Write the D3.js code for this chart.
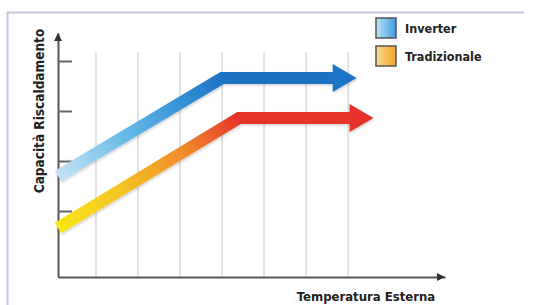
<!DOCTYPE html>
<html>
<head>
<meta charset="utf-8">
<script src="https://cdn.jsdelivr.net/npm/d3@7"></script>
<style>
  body { margin: 0; background: #fff; }
  text { font-family: "DejaVu Sans Condensed", "DejaVu Sans", sans-serif; font-weight: bold; fill: #222; }
</style>
</head>
<body>
<svg id="chart"></svg>
<script>
// data (x = outside temperature, y = heating capacity, arbitrary units)
const series = ["Inverter", "Tradizionale"];
const inverterX = [-19.5, 0, 16];
const inverterY = [1.7, 3.66, 3.66];
const tradizionaleX = [-19.5, 2, 18];
const tradizionaleY = [0.66, 2.86, 2.86];
const gridTemps = [-15, -10, -5, 0, 5, 10, 15];
const capTicks = [1, 2, 3, 4];

const width = 533, height = 305;

const svg = d3.select("#chart")
    .attr("width", width)
    .attr("height", height);

x = d3.scaleLinear()
    .domain([-19.5, 26.5])
    .range([58, 445]);

y = d3.scaleLinear()
    .domain([-0.32, 4.56])
    .range([277, 33]);

// frame (top + left only)
svg.append("path")
    .attr("d", "M7.5,305 V12.5 H524")
    .attr("fill", "none")
    .attr("stroke", "#cdc3df")
    .attr("stroke-width", 2);

// vertical grid lines
svg.append("g").selectAll("line")
    .data(gridTemps)
    .join("line")
      .attr("x1", d => x(d)).attr("x2", d => x(d))
      .attr("y1", y(-0.32)).attr("y2", y(4.18))
      .attr("stroke", "#e2e2e2")
      .attr("stroke-width", 2);

// gradients
const defs = svg.append("defs");

let addGrad = function(id, xs, ys, stops) {
    const g = defs.append("linearGradient")
        .attr("id", id)
        .attr("gradientUnits", "userSpaceOnUse")
        .attr("x1", x(xs[0])).attr("y1", y(ys[0]))
        .attr("x2", x(xs[1])).attr("y2", y(ys[1]));
    g.selectAll("stop")
        .data(stops)
        .join("stop")
          .attr("offset", d => d[0])
          .attr("stop-color", d => d[1]);
};

addGrad("gInv", inverterX, inverterY,
    [[0, "#c4e3f4"], [0.4, "#69bbe8"], [0.75, "#3592d6"], [1, "#1e72c3"]]);
addGrad("gTrad", tradizionaleX, tradizionaleY,
    [[0, "#f8e516"], [0.35, "#f6c426"], [0.7, "#f08a2a"], [1, "#e5342b"]]);

// legend gradients (horizontal)
let addLegendGrad = function(id, c0, c1) {
    const g = defs.append("linearGradient").attr("id", id)
        .attr("x1", 0).attr("y1", 0).attr("x2", 1).attr("y2", 0);
    g.append("stop").attr("offset", 0).attr("stop-color", c0);
    g.append("stop").attr("offset", 1).attr("stop-color", c1);
};
addLegendGrad("lInv", "#bfe2f5", "#3d9ee0");
addLegendGrad("lTrad", "#f8df90", "#f2a42e");

defs.append("filter").attr("id", "shadow")
    .attr("x", "-10%").attr("y", "-20%").attr("width", "130%").attr("height", "160%")
  .append("feDropShadow")
    .attr("dx", 1).attr("dy", 1.5).attr("stdDeviation", 1.2)
    .attr("flood-color", "#000").attr("flood-opacity", 0.18);

// y axis with ticks to the right
const yAxis = d3.axisRight(y).tickValues(capTicks).tickSize(14).tickSizeOuter(0).tickFormat("");
const yg = svg.append("g").attr("transform", `translate(${x(-19.5)},0)`).call(yAxis);
yg.select(".domain").attr("stroke", "#555").attr("stroke-width", 2);
yg.selectAll(".tick line").attr("stroke", "#666").attr("stroke-width", 2);

// x axis line
const xAxis = d3.axisBottom(x).tickValues([]).tickSizeOuter(0);
const xg = svg.append("g").attr("transform", `translate(0,${y(-0.32)})`).call(xAxis);
xg.select(".domain").attr("stroke", "#555").attr("stroke-width", 2);

// axis arrowheads
svg.append("path")
    .attr("d", `M${x(-19.5) - 4},${y(4.56) + 8} L${x(-19.5)},${y(4.56)} L${x(-19.5) + 4},${y(4.56) + 8} Z`)
    .attr("fill", "#333");
svg.append("path")
    .attr("d", `M${x(26.5) - 8},${y(-0.32) - 4} L${x(26.5)},${y(-0.32)} L${x(26.5) - 8},${y(-0.32) + 4} Z`)
    .attr("fill", "#333");

// capacity bands with arrows
const headLen = 23, headHalf = 14;

let drawBand = function(xs, ys, grad, headColor) {
    const pts = xs.map((d, i) => [x(d), y(ys[i])]);
    const tip = pts[pts.length - 1];
    const base = [tip[0] - headLen, tip[1]];
    const g = svg.append("g").attr("filter", "url(#shadow)");
    g.append("path")
        .attr("d", d3.line()([pts[0], pts[1], base]))
        .attr("fill", "none")
        .attr("stroke", `url(#${grad})`)
        .attr("stroke-width", 12)
        .attr("stroke-linejoin", "miter");
    g.append("path")
        .attr("d", `M${base[0] - 1},${tip[1] - headHalf} L${tip[0]},${tip[1]} L${base[0] - 1},${tip[1] + headHalf} Z`)
        .attr("fill", headColor);
};

drawBand(inverterX, inverterY, "gInv", "#1f74c4");
drawBand(tradizionaleX, tradizionaleY, "gTrad", "#e5322b");

// legend
const legend = svg.append("g").selectAll("g")
    .data(series)
    .join("g")
      .attr("transform", (d, i) => `translate(376, ${18 + i * 28})`);

legend.append("rect")
    .attr("width", 20).attr("height", 20)
    .attr("fill", (d, i) => i == 0 ? "url(#lInv)" : "url(#lTrad)")
    .attr("stroke", "#555")
    .attr("stroke-width", 1.5);

legend.append("text")
    .attr("x", 29).attr("y", 15)
    .attr("font-size", 12.5)
    .text(d => d);

// axis titles
svg.append("text")
    .attr("transform", `translate(44, 111) rotate(-90)`)
    .attr("text-anchor", "middle")
    .attr("font-size", 13.5)
    .text("Capacità Riscaldamento");

svg.append("text")
    .attr("x", 366).attr("y", 301)
    .attr("text-anchor", "middle")
    .attr("font-size", 13)
    .text("Temperatura Esterna");
</script>
</body>
</html>
